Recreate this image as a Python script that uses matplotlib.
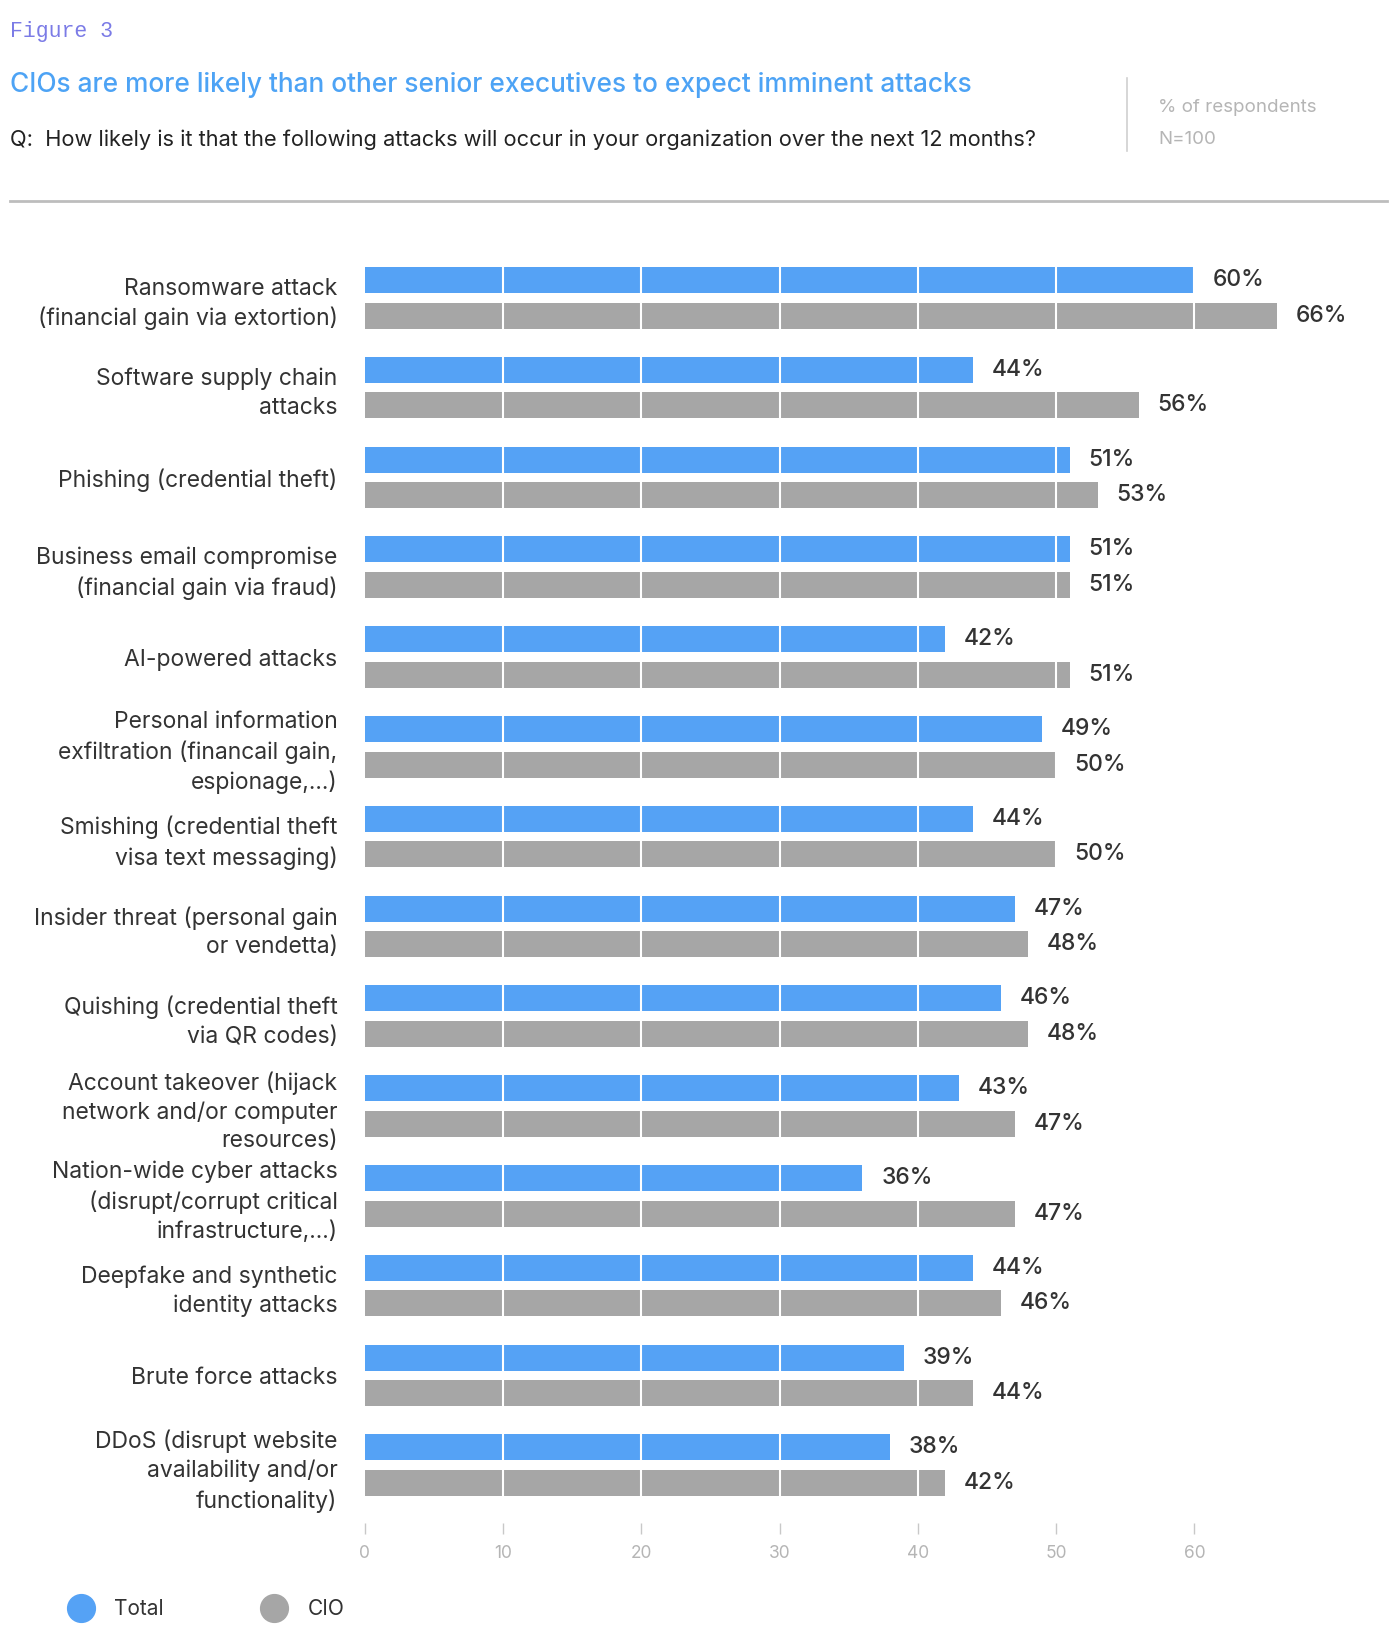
import matplotlib.pyplot as plt
from matplotlib.lines import Line2D
import numpy as np

plt.rcParams['font.family'] = ['Inter', 'DejaVu Sans']

categories = [
    "Ransomware attack\n(financial gain via extortion)",
    "Software supply chain\nattacks",
    "Phishing (credential theft)",
    "Business email compromise\n(financial gain via fraud)",
    "AI-powered attacks",
    "Personal information\nexfiltration (financail gain,\nespionage,...)",
    "Smishing (credential theft\nvisa text messaging)",
    "Insider threat (personal gain\nor vendetta)",
    "Quishing (credential theft\nvia QR codes)",
    "Account takeover (hijack\nnetwork and/or computer\nresources)",
    "Nation-wide cyber attacks\n(disrupt/corrupt critical\ninfrastructure,...)",
    "Deepfake and synthetic\nidentity attacks",
    "Brute force attacks",
    "DDoS (disrupt website\navailability and/or\nfunctionality)",
]
total = [60, 44, 51, 51, 42, 49, 44, 47, 46, 43, 36, 44, 39, 38]
cio = [66, 56, 53, 51, 51, 50, 50, 48, 48, 47, 47, 46, 44, 42]
xticks = [0, 10, 20, 30, 40, 50, 60]

BLUE = '#55a2f5'
GREY = '#a6a6a6'

W, H = 1400, 1638
fig = plt.figure(figsize=(W / 100, H / 100), dpi=100)

# header
fig.text(10 / W, 1 - 32 / H, "Figure 3", family='Liberation Mono', fontsize=15.5,
         color='#7b7be6', va='center')
fig.text(10 / W, 1 - 85 / H, "CIOs are more likely than other senior executives to expect imminent attacks",
         fontsize=18.9, color='#4da3f5', va='center', fontweight='medium')
fig.text(10 / W, 1 - 140 / H,
         "Q:  How likely is it that the following attacks will occur in your organization over the next 12 months?",
         fontsize=15.7, color='#222222', va='center')
fig.add_artist(Line2D([1127 / W, 1127 / W], [1 - 78 / H, 1 - 151 / H], color='#d0d0d0', lw=1.2))
fig.text(1158 / W, 1 - 108 / H, "% of respondents", fontsize=13.5, color='#b5b5b5', va='center')
fig.text(1158 / W, 1 - 140 / H, "N=100", fontsize=13.5, color='#b5b5b5', va='center')
fig.add_artist(Line2D([10 / W, 1387 / W], [1 - 201 / H, 1 - 201 / H], color='#bdbdbd', lw=2))

# main axes
left_px, top_px, bottom_px = 364.6, 230, 1523
ax = fig.add_axes([left_px / W, 1 - bottom_px / H, (1387 - left_px) / W, (bottom_px - top_px) / H])
unit = 13.83
ax.set_xlim(0, (1387 - left_px) / unit)
grp = 89.8
ax.set_ylim((bottom_px - 297.8) / grp, (top_px - 297.8) / grp)

y = np.arange(len(categories))
off = 0.198
h = 0.29
ax.barh(y - off, total, height=h, color=BLUE, zorder=2)
ax.barh(y + off, cio, height=h, color=GREY, zorder=2)

for v in xticks[1:]:
    ax.axvline(v, color='white', lw=1.5, zorder=3)

for yi, t, c in zip(y, total, cio):
    ax.text(t + 1.35, yi - off, f"{t}%", va='center', ha='left', fontsize=16.5, color='#333333',
            fontweight='medium')
    ax.text(c + 1.35, yi + off, f"{c}%", va='center', ha='left', fontsize=16.5, color='#333333',
            fontweight='medium')

ax.set_yticks(y)
ax.set_yticklabels(categories, fontsize=16.5, color='#333333', ha='right', multialignment='right',
                   linespacing=1.38)
ax.tick_params(axis='y', length=0, pad=19.5)
ax.set_xticks(xticks)
ax.tick_params(axis='x', direction='out', length=8, width=1, color='#c8c8c8',
               labelcolor='#b5b5b5', labelsize=12.5, pad=8)
for s in ax.spines.values():
    s.set_visible(False)

# legend
handles = [
    Line2D([], [], marker='o', ls='', markersize=20, color=BLUE, label='Total'),
    Line2D([], [], marker='o', ls='', markersize=20, color=GREY, label='CIO'),
]
fig.legend(handles=handles, loc='center left', bbox_to_anchor=(41 / W, 1 - 1609 / H), ncol=2,
           frameon=False, fontsize=15, handletextpad=0.6, columnspacing=4.3, labelcolor='#333333')

fig.savefig('out.png', dpi=100, facecolor='white')
